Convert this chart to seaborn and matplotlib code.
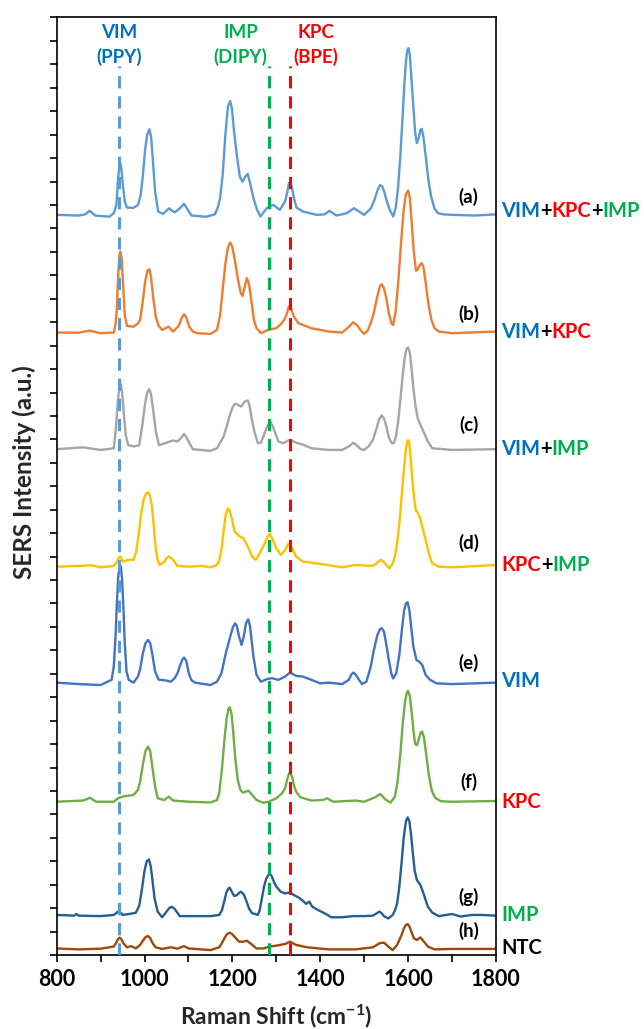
import matplotlib
matplotlib.use("Agg")
import matplotlib.pyplot as plt
import seaborn as sns
import pandas as pd

# ---------------- data (Raman shift in cm-1, stacked SERS intensity in a.u.) ----------------
trace_a = [(800, 31.58), (850, 31.55), (865, 31.60), (875, 31.75), (888, 31.55), (920, 31.50), (930, 31.65),
           (936, 32.00), (940, 33.20), (944, 33.83), (947, 33.60), (951, 32.80), (955, 32.15), (960, 31.89),
           (975, 31.88), (985, 32.00), (991, 32.40), (996, 33.20), (1001, 34.30), (1006, 35.00), (1011, 35.23),
           (1015, 34.90), (1019, 33.90), (1024, 32.60), (1031, 31.72), (1042, 31.62), (1056, 31.86), (1063, 31.75),
           (1069, 31.69), (1080, 31.85), (1090, 32.05), (1100, 31.75), (1107, 31.55), (1140, 31.50), (1160, 31.60),
           (1167, 31.90), (1172, 32.30), (1178, 33.30), (1184, 35.00), (1190, 36.20), (1195, 36.44), (1199, 36.10),
           (1204, 35.10), (1210, 34.14), (1217, 33.20), (1223, 33.00), (1229, 33.20), (1235, 33.33), (1242, 32.80),
           (1248, 32.29), (1256, 31.80), (1264, 31.51), (1278, 31.86), (1293, 32.01), (1308, 31.79), (1320, 32.15),
           (1325, 32.55), (1329, 32.95), (1332, 33.00), (1336, 32.70), (1340, 32.30), (1346, 31.89), (1361, 31.72),
           (1392, 31.58), (1410, 31.60), (1421, 31.75), (1437, 31.55), (1460, 31.65), (1477, 31.86), (1490, 31.70),
           (1500, 31.58), (1515, 31.85), (1523, 32.20), (1530, 32.60), (1536, 32.85), (1541, 32.80), (1546, 32.55),
           (1551, 32.20), (1558, 31.80), (1566, 31.51), (1572, 31.90), (1577, 32.70), (1582, 34.00), (1587, 35.60),
           (1591, 37.00), (1595, 38.10), (1598, 38.60), (1601, 38.69), (1604, 38.40), (1608, 37.30), (1612, 36.20),
           (1616, 35.10), (1620, 34.64), (1624, 34.85), (1628, 35.20), (1631, 35.25), (1635, 34.90), (1640, 34.10),
           (1646, 33.10), (1652, 32.40), (1660, 31.85), (1668, 31.65), (1680, 31.60), (1700, 31.58), (1750, 31.55),
           (1800, 31.60)]

trace_b = [(800, 26.56), (850, 26.55), (875, 26.64), (900, 26.53), (930, 26.56), (934, 26.90), (937, 27.60),
           (940, 29.00), (943, 29.85), (945, 30.01), (948, 29.70), (951, 28.70), (955, 27.30), (960, 26.84),
           (975, 26.81), (985, 26.95), (990, 27.10), (996, 27.90), (1002, 28.80), (1007, 29.20), (1011, 29.26),
           (1015, 28.90), (1020, 28.00), (1026, 27.20), (1032, 26.85), (1040, 26.67), (1055, 26.81), (1065, 26.60),
           (1078, 26.85), (1085, 27.20), (1090, 27.34), (1095, 27.20), (1102, 26.80), (1110, 26.60), (1120, 26.53),
           (1150, 26.50), (1165, 26.67), (1172, 27.30), (1178, 28.40), (1184, 29.50), (1190, 30.20), (1195, 30.40),
           (1200, 30.20), (1206, 29.60), (1213, 28.80), (1219, 28.25), (1223, 28.12), (1228, 28.50), (1233, 28.88),
           (1238, 28.60), (1243, 27.95), (1249, 27.10), (1255, 26.74), (1265, 26.53), (1283, 26.69), (1300, 26.74),
           (1312, 26.95), (1318, 27.10), (1324, 27.35), (1328, 27.65), (1331, 27.71), (1335, 27.50), (1340, 27.24),
           (1350, 26.96), (1380, 26.74), (1420, 26.60), (1450, 26.56), (1465, 26.80), (1475, 27.00), (1485, 26.85),
           (1492, 26.65), (1500, 26.50), (1508, 26.65), (1515, 26.96), (1522, 27.40), (1530, 28.10), (1536, 28.55),
           (1540, 28.62), (1545, 28.45), (1550, 28.05), (1556, 27.40), (1562, 26.95), (1566, 26.88), (1572, 27.50),
           (1578, 28.80), (1584, 30.40), (1590, 31.80), (1595, 32.45), (1600, 32.62), (1604, 32.30), (1608, 31.30),
           (1613, 30.00), (1618, 29.20), (1622, 29.25), (1627, 29.45), (1631, 29.52), (1635, 29.35), (1640, 28.70),
           (1646, 27.80), (1653, 27.10), (1660, 26.75), (1670, 26.60), (1700, 26.53), (1800, 26.60)]

trace_c = [(800, 21.58), (860, 21.66), (900, 21.55), (930, 21.62), (935, 22.50), (939, 23.60), (943, 24.25),
           (946, 24.35), (949, 24.00), (953, 23.10), (957, 22.20), (963, 21.75), (975, 21.70), (988, 21.75),
           (995, 22.60), (1001, 23.50), (1006, 24.00), (1011, 24.14), (1015, 23.90), (1020, 23.20), (1026, 22.30),
           (1033, 21.75), (1050, 21.86), (1065, 21.95), (1075, 21.91), (1085, 22.10), (1090, 22.23), (1095, 22.10),
           (1102, 21.85), (1110, 21.58), (1150, 21.51), (1165, 21.62), (1180, 22.12), (1187, 22.55), (1193, 22.97),
           (1200, 23.35), (1205, 23.51), (1210, 23.50), (1215, 23.45), (1220, 23.40), (1228, 23.61), (1235, 23.66),
           (1239, 23.45), (1243, 23.00), (1250, 22.33), (1258, 21.84), (1265, 21.86), (1272, 22.19), (1278, 22.50),
           (1283, 22.68), (1287, 22.72), (1291, 22.60), (1297, 22.30), (1305, 21.91), (1315, 21.84), (1331, 21.98),
           (1345, 21.86), (1360, 21.78), (1380, 21.62), (1420, 21.55), (1450, 21.55), (1465, 21.70), (1475, 21.86),
           (1485, 21.72), (1492, 21.58), (1500, 21.55), (1510, 21.70), (1520, 21.98), (1527, 22.40), (1534, 22.85),
           (1540, 23.02), (1545, 22.90), (1550, 22.60), (1556, 22.10), (1562, 21.85), (1567, 21.83), (1572, 22.10),
           (1577, 22.70), (1582, 23.60), (1587, 24.60), (1592, 25.45), (1596, 25.85), (1600, 25.92), (1604, 25.70),
           (1608, 25.00), (1612, 24.20), (1617, 23.40), (1622, 22.90), (1628, 22.62), (1635, 22.33), (1645, 21.91),
           (1655, 21.62), (1700, 21.55), (1800, 21.58)]

trace_d = [(800, 16.57), (850, 16.60), (880, 16.63), (900, 16.54), (930, 16.60), (938, 16.80), (942, 16.98),
           (946, 17.00), (950, 16.80), (955, 16.79), (960, 16.86), (975, 16.86), (981, 17.20), (986, 17.85),
           (992, 18.80), (998, 19.45), (1004, 19.70), (1009, 19.74), (1013, 19.55), (1017, 19.13), (1021, 18.30),
           (1025, 17.43), (1030, 16.85), (1035, 16.64), (1045, 16.79), (1051, 16.95), (1055, 17.00), (1060, 16.95),
           (1065, 16.86), (1075, 16.60), (1100, 16.57), (1130, 16.60), (1150, 16.54), (1165, 16.64), (1171, 16.90),
           (1176, 17.40), (1180, 18.10), (1185, 18.80), (1190, 19.06), (1194, 18.95), (1199, 18.60), (1205, 18.07),
           (1215, 17.88), (1225, 17.78), (1235, 17.43), (1245, 17.00), (1253, 16.86), (1260, 17.07), (1270, 17.43),
           (1280, 17.82), (1285, 17.97), (1292, 17.71), (1300, 17.35), (1310, 17.07), (1320, 17.28), (1327, 17.54),
           (1335, 17.40), (1345, 17.00), (1360, 16.79), (1400, 16.69), (1450, 16.54), (1480, 16.64), (1520, 16.60),
           (1532, 16.78), (1538, 16.86), (1544, 16.78), (1550, 16.64), (1558, 16.50), (1565, 16.71), (1570, 17.00),
           (1575, 17.57), (1580, 18.40), (1585, 19.50), (1590, 20.60), (1595, 21.60), (1599, 21.95), (1602, 21.95),
           (1606, 21.20), (1610, 20.20), (1614, 19.40), (1618, 18.95), (1623, 18.85), (1628, 18.60), (1633, 18.20),
           (1640, 17.71), (1648, 17.07), (1655, 16.71), (1670, 16.57), (1700, 16.54), (1800, 16.64)]

trace_e = [(800, 11.62), (850, 11.56), (900, 11.52), (925, 11.74), (930, 12.30), (934, 13.60), (937, 15.00),
           (940, 16.10), (943, 16.60), (946, 16.60), (949, 16.00), (952, 14.80), (955, 13.30), (959, 12.10),
           (964, 11.74), (975, 11.62), (985, 11.88), (990, 12.20), (996, 12.85), (1002, 13.30), (1008, 13.44),
           (1013, 13.30), (1018, 12.80), (1024, 12.10), (1032, 11.75), (1050, 11.71), (1060, 11.66), (1068, 11.80),
           (1075, 12.02), (1080, 12.30), (1086, 12.60), (1090, 12.69), (1095, 12.55), (1101, 12.00), (1107, 11.72),
           (1115, 11.62), (1150, 11.52), (1165, 11.66), (1175, 12.02), (1185, 12.87), (1195, 13.58), (1201, 13.98),
           (1206, 14.15), (1210, 14.05), (1215, 13.60), (1221, 13.23), (1226, 13.60), (1231, 14.15), (1236, 14.32),
           (1240, 14.05), (1244, 13.40), (1248, 12.73), (1255, 11.95), (1265, 11.66), (1280, 11.78), (1290, 11.81),
           (1305, 11.74), (1320, 11.88), (1331, 12.05), (1345, 11.91), (1360, 11.88), (1380, 11.74), (1400, 11.59),
           (1420, 11.62), (1450, 11.56), (1465, 11.74), (1471, 11.98), (1476, 12.05), (1481, 11.95), (1488, 11.75),
           (1495, 11.56), (1505, 11.66), (1515, 12.30), (1522, 13.00), (1530, 13.65), (1536, 13.90), (1540, 13.94),
           (1545, 13.80), (1550, 13.30), (1556, 12.60), (1562, 12.00), (1566, 11.80), (1573, 12.02), (1580, 12.80),
           (1586, 13.90), (1591, 14.70), (1595, 15.00), (1599, 15.05), (1603, 14.70), (1607, 14.00), (1612, 13.16),
           (1619, 12.59), (1625, 12.52), (1632, 12.38), (1640, 11.95), (1650, 11.74), (1665, 11.59), (1700, 11.56),
           (1800, 11.62)]

trace_f = [(800, 6.54), (860, 6.59), (870, 6.66), (876, 6.71), (883, 6.62), (890, 6.54), (930, 6.54), (940, 6.69),
           (950, 6.76), (975, 6.83), (985, 7.04), (990, 7.40), (996, 8.10), (1002, 8.70), (1008, 8.89), (1013, 8.70),
           (1018, 8.00), (1024, 7.20), (1030, 6.69), (1045, 6.61), (1055, 6.76), (1065, 6.59), (1100, 6.54),
           (1150, 6.51), (1165, 6.61), (1170, 6.90), (1176, 7.90), (1182, 9.20), (1187, 10.10), (1191, 10.50),
           (1194, 10.57), (1198, 10.30), (1202, 9.50), (1207, 8.32), (1212, 7.50), (1218, 7.05), (1224, 6.93),
           (1230, 6.97), (1237, 7.01), (1245, 6.83), (1255, 6.61), (1270, 6.50), (1283, 6.54), (1300, 6.69),
           (1313, 6.90), (1320, 7.11), (1325, 7.50), (1329, 7.75), (1332, 7.78), (1336, 7.60), (1340, 7.25),
           (1345, 6.97), (1355, 6.73), (1380, 6.59), (1408, 6.62), (1415, 6.69), (1422, 6.62), (1430, 6.54),
           (1480, 6.59), (1500, 6.54), (1525, 6.73), (1537, 6.87), (1548, 6.64), (1560, 6.50), (1570, 6.76),
           (1576, 7.40), (1582, 8.50), (1588, 9.90), (1593, 10.80), (1597, 11.20), (1600, 11.27), (1604, 11.05),
           (1608, 10.40), (1612, 9.60), (1616, 9.00), (1620, 8.95), (1625, 9.25), (1629, 9.50), (1632, 9.53),
           (1636, 9.30), (1641, 8.60), (1647, 7.70), (1654, 7.00), (1662, 6.70), (1675, 6.56), (1700, 6.54),
           (1800, 6.57)]

trace_g = [(800, 1.71), (840, 1.68), (845, 1.75), (850, 1.68), (900, 1.66), (930, 1.71), (938, 1.82), (942, 1.89),
           (946, 1.80), (950, 1.71), (965, 1.75), (980, 1.80), (988, 2.10), (994, 2.80), (1000, 3.60), (1005, 4.00),
           (1010, 4.08), (1014, 3.80), (1018, 3.20), (1023, 2.40), (1030, 1.85), (1040, 1.61), (1050, 1.85),
           (1056, 2.00), (1062, 2.06), (1068, 1.98), (1075, 1.80), (1080, 1.66), (1100, 1.66), (1150, 1.66),
           (1170, 1.71), (1176, 1.90), (1181, 2.25), (1186, 2.65), (1191, 2.85), (1194, 2.87), (1198, 2.72),
           (1204, 2.52), (1210, 2.55), (1216, 2.66), (1220, 2.70), (1226, 2.58), (1232, 2.30), (1238, 1.98),
           (1245, 1.78), (1252, 1.75), (1258, 1.71), (1262, 1.90), (1267, 2.40), (1272, 2.92), (1277, 3.25),
           (1282, 3.42), (1286, 3.46), (1290, 3.35), (1295, 3.10), (1300, 2.92), (1310, 2.70), (1320, 2.63),
           (1330, 2.67), (1340, 2.56), (1350, 2.46), (1360, 2.32), (1368, 2.18), (1375, 2.28), (1382, 2.06),
           (1395, 1.92), (1410, 1.78), (1425, 1.61), (1450, 1.61), (1475, 1.66), (1500, 1.66), (1520, 1.68),
           (1530, 1.80), (1535, 1.85), (1540, 1.78), (1545, 1.66), (1555, 1.56), (1565, 1.71), (1570, 1.90),
           (1575, 2.20), (1580, 2.90), (1585, 3.90), (1590, 5.00), (1595, 5.70), (1599, 5.87), (1603, 5.70),
           (1607, 5.10), (1611, 4.30), (1615, 3.60), (1620, 3.20), (1628, 2.99), (1635, 2.63), (1645, 2.06),
           (1655, 1.81), (1670, 1.66), (1700, 1.75), (1720, 1.64), (1745, 1.71), (1765, 1.71), (1800, 1.68)]

trace_h = [(800, 0.28), (850, 0.24), (900, 0.27), (930, 0.36), (935, 0.50), (939, 0.66), (943, 0.74), (947, 0.68),
           (952, 0.50), (960, 0.33), (970, 0.38), (980, 0.28), (990, 0.43), (996, 0.60), (1002, 0.76), (1008, 0.81),
           (1013, 0.72), (1018, 0.52), (1025, 0.33), (1040, 0.26), (1060, 0.33), (1075, 0.27), (1090, 0.38),
           (1100, 0.28), (1150, 0.21), (1170, 0.33), (1176, 0.50), (1182, 0.72), (1188, 0.90), (1194, 0.95),
           (1199, 0.90), (1205, 0.78), (1215, 0.57), (1225, 0.57), (1233, 0.61), (1243, 0.47), (1255, 0.28),
           (1270, 0.28), (1285, 0.36), (1300, 0.40), (1320, 0.47), (1331, 0.57), (1345, 0.43), (1370, 0.33),
           (1420, 0.24), (1480, 0.24), (1520, 0.33), (1535, 0.50), (1545, 0.53), (1555, 0.36), (1565, 0.21),
           (1575, 0.43), (1585, 0.85), (1590, 1.12), (1595, 1.28), (1599, 1.32), (1603, 1.22), (1607, 1.02),
           (1613, 0.72), (1620, 0.64), (1628, 0.75), (1636, 0.57), (1645, 0.36), (1660, 0.24), (1700, 0.26),
           (1800, 0.26)]

trace_keys = ["a", "b", "c", "d", "e", "f", "g", "h"]
trace_colors = ["#5B9BD5", "#ED7D31", "#A5A5A5", "#FFC000", "#4472C4", "#70AD47", "#255E91", "#9E480E"]
letter_labels = ["(a)", "(b)", "(c)", "(d)", "(e)", "(f)", "(g)", "(h)"]
letter_y = [32.36, 27.35, 22.62, 17.57, 12.45, 7.40, 2.46, 1.02]
name_y = [31.75, 26.60, 21.60, 16.65, 11.67, 6.54, 1.71, 0.30]
names = [[("VIM", "#0070C0"), ("+", "black"), ("KPC", "#FF0000"), ("+", "black"), ("IMP", "#00B050")],
         [("VIM", "#0070C0"), ("+", "black"), ("KPC", "#FF0000")],
         [("VIM", "#0070C0"), ("+", "black"), ("IMP", "#00B050")],
         [("KPC", "#FF0000"), ("+", "black"), ("IMP", "#00B050")],
         [("VIM", "#0070C0")],
         [("KPC", "#FF0000")],
         [("IMP", "#00B050")],
         [("NTC", "black")]]

marker_shift = [942, 1283, 1331]
marker_colors = ["#5B9BD5", "#00B050", "#FF0000"]
marker_top = 37.95
marker_titles = [("VIM", "(PPY)", "#0070C0", 942), ("IMP", "(DIPY)", "#00B050", 1219), ("KPC", "(BPE)", "#FF0000", 1390)]

# ---------------- build frame ----------------
all_traces = [trace_a, trace_b, trace_c, trace_d, trace_e, trace_f, trace_g, trace_h]
frames = []
for key, pts in zip(trace_keys, all_traces):
    df = pd.DataFrame(pts, columns=["shift", "intensity"])
    df["trace"] = key
    frames.append(df)
data = pd.concat(frames, ignore_index=True)

# ---------------- style ----------------
sns.set_style("ticks")
plt.rcParams["font.family"] = ["Lato", "DejaVu Sans"]
plt.rcParams["font.weight"] = "bold"
plt.rcParams["mathtext.fontset"] = "custom"
plt.rcParams["mathtext.rm"] = "Lato:bold"
plt.rcParams["mathtext.bf"] = "Lato:bold"
plt.rcParams["mathtext.default"] = "rm"

fig = plt.figure(figsize=(6.44, 10.29), dpi=100)
ax = fig.add_axes([0.0880, 0.0719, 0.6821, 0.9111])

sns.lineplot(data=data, x="shift", y="intensity", hue="trace", hue_order=trace_keys,
             palette=dict(zip(trace_keys, trace_colors)), sort=False, estimator=None,
             linewidth=1.7, legend=False, ax=ax, zorder=2)

for xs, c in zip(marker_shift, marker_colors):
    ax.plot([xs, xs], [0, marker_top], color=c, lw=2.2, dashes=(4.0, 2.6), zorder=3)

for top, bottom, c, xs in marker_titles:
    ax.text(xs, 39.37, top, color=c, fontsize=13.5, fontweight="bold", ha="center", va="center")
    ax.text(xs, 38.33, bottom, color=c, fontsize=13.5, fontweight="bold", ha="center", va="center")

for lab, ly in zip(letter_labels, letter_y):
    ax.text(1738, ly, lab, fontsize=13.5, fontweight="bold", ha="center", va="center", color="black")

trans = ax.get_yaxis_transform()
for segs, ny in zip(names, name_y):
    prev = None
    for txt, col in segs:
        if prev is None:
            prev = ax.text(1.012, ny, txt, transform=trans, color=col, fontsize=14.5,
                           fontweight="bold", ha="left", va="center", clip_on=False)
        else:
            prev = ax.annotate(txt, xy=(1, 0), xycoords=prev, ha="left", va="bottom",
                               color=col, fontsize=14.5, fontweight="bold", annotation_clip=False)

ax.set_xlim(800, 1800)
ax.set_ylim(0, 40)
ax.set_xticks(range(800, 1801, 200))
ax.set_xticks(range(900, 1800, 200), minor=True)
ax.set_yticks(range(0, 41))
ax.set_yticklabels([])
ax.tick_params(axis="both", which="both", direction="out", length=5, width=1.2, colors="black",
               top=False, right=False)
ax.tick_params(axis="x", labelsize=15.5, pad=5)
for lab in ax.get_xticklabels():
    lab.set_fontweight("bold")
for s in ax.spines.values():
    s.set_visible(True)
    s.set_color("black")
    s.set_linewidth(1.2)

ax.set_xlabel(r"Raman Shift (cm$^{-1}$)", fontsize=16.5, fontweight="bold")
ax.set_ylabel("SERS Intensity (a.u.)", fontsize=17.5, fontweight="bold")
ax.xaxis.set_label_coords(0.5, -0.051)
ax.yaxis.set_label_coords(-0.046, 0.515)

fig.savefig("out.png", dpi=100)
